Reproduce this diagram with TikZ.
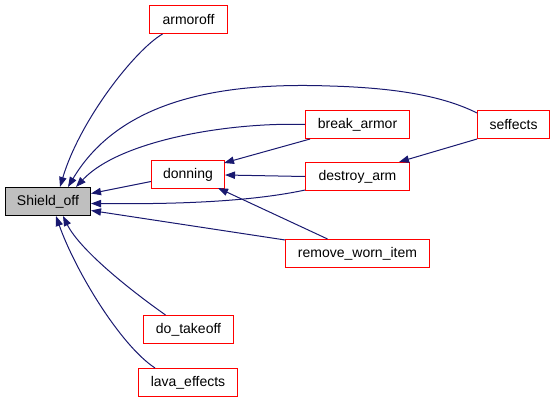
\documentclass[tikz,border=0pt]{standalone}
\usepackage{fontspec}
\setmainfont{Liberation Sans}
\usetikzlibrary{arrows.meta,calc}
\definecolor{edgeblue}{RGB}{25,25,112}
\definecolor{rootgray}{RGB}{191,191,191}
\definecolor{boxred}{RGB}{255,0,0}
\begin{document}
\begin{tikzpicture}[x=0.75pt,y=-0.75pt,
  fn/.style={draw=boxred, fill=white, line width=0.8pt, minimum height=21pt, inner sep=0pt, text=black, font=\fontsize{10.5}{12}\selectfont},
  root/.style={fn, draw=black, fill=rootgray},
  edge/.style={draw=edgeblue, line width=0.75pt, -{Triangle[length=7.5pt,width=5.5pt]}, edgeblue}]
\useasboundingbox (0,0) rectangle (555,403);
\node[root, minimum width=63.75pt] (shield) at (48,201.5) {Shield\_off};
\node[fn, minimum width=58.5pt] (armoroff) at (188.5,19.5) {armoroff};
\node[fn, minimum width=78pt] (break_armor) at (357.5,124.5) {break\_armor};
\node[fn, minimum width=54pt] (seffects) at (513.5,124.5) {seffects};
\node[fn, minimum width=54.75pt] (donning) at (188,174.5) {donning};
\node[fn, minimum width=78pt] (destroy_arm) at (357.5,176.5) {destroy\_arm};
\node[fn, minimum width=108pt] (remove_worn_item) at (357.5,253.5) {remove\_worn\_item};
\node[fn, minimum width=67.5pt] (do_takeoff) at (188.5,329.5) {do\_takeoff};
\node[fn, minimum width=74.25pt] (lava_effects) at (188,382.5) {lava\_effects};

\draw[edge] ($(armoroff.south)+(-26,0)$) .. controls (135,50) and (80,120) .. ($(shield.north)+(12,0)$);
\draw[edge] ($(seffects.north west)+(0,3)$) .. controls (445,97) and (400,88) .. (330,86) .. controls (220,82) and (120,100) .. ($(shield.north)+(20,0)$);
\draw[edge] (break_armor.west) .. controls (230,122) and (120,140) .. ($(shield.north)+(28,0)$);
\draw[edge] ($(donning.west)+(0,7)$) -- ($(shield.east)+(0,-8)$);
\draw[edge] ($(destroy_arm.south west)+(0,-1)$) .. controls (240,204) and (150,204) .. ($(shield.east)+(0,2)$);
\draw[edge] ($(remove_worn_item.north west)+(0,1)$) -- ($(shield.east)+(0,9)$);
\draw[edge] ($(do_takeoff.north)+(-23,0)$) .. controls (130,290) and (80,250) .. ($(shield.south)+(15,0)$);
\draw[edge] ($(lava_effects.north)+(-33,0)$) .. controls (120,345) and (75,270) .. ($(shield.south)+(8,0)$);
\draw[edge] ($(break_armor.south west)+(5,0)$) -- ($(donning.north east)+(-1,3)$);
\draw[edge] (destroy_arm.west) -- ($(donning.east)+(0,0.5)$);
\draw[edge] ($(remove_worn_item.north)+(-30,0)$) -- ($(donning.south east)+(-7,-1)$);
\draw[edge] (seffects.south west) -- ($(destroy_arm.north east)+(-11,0)$);
\end{tikzpicture}
\end{document}
